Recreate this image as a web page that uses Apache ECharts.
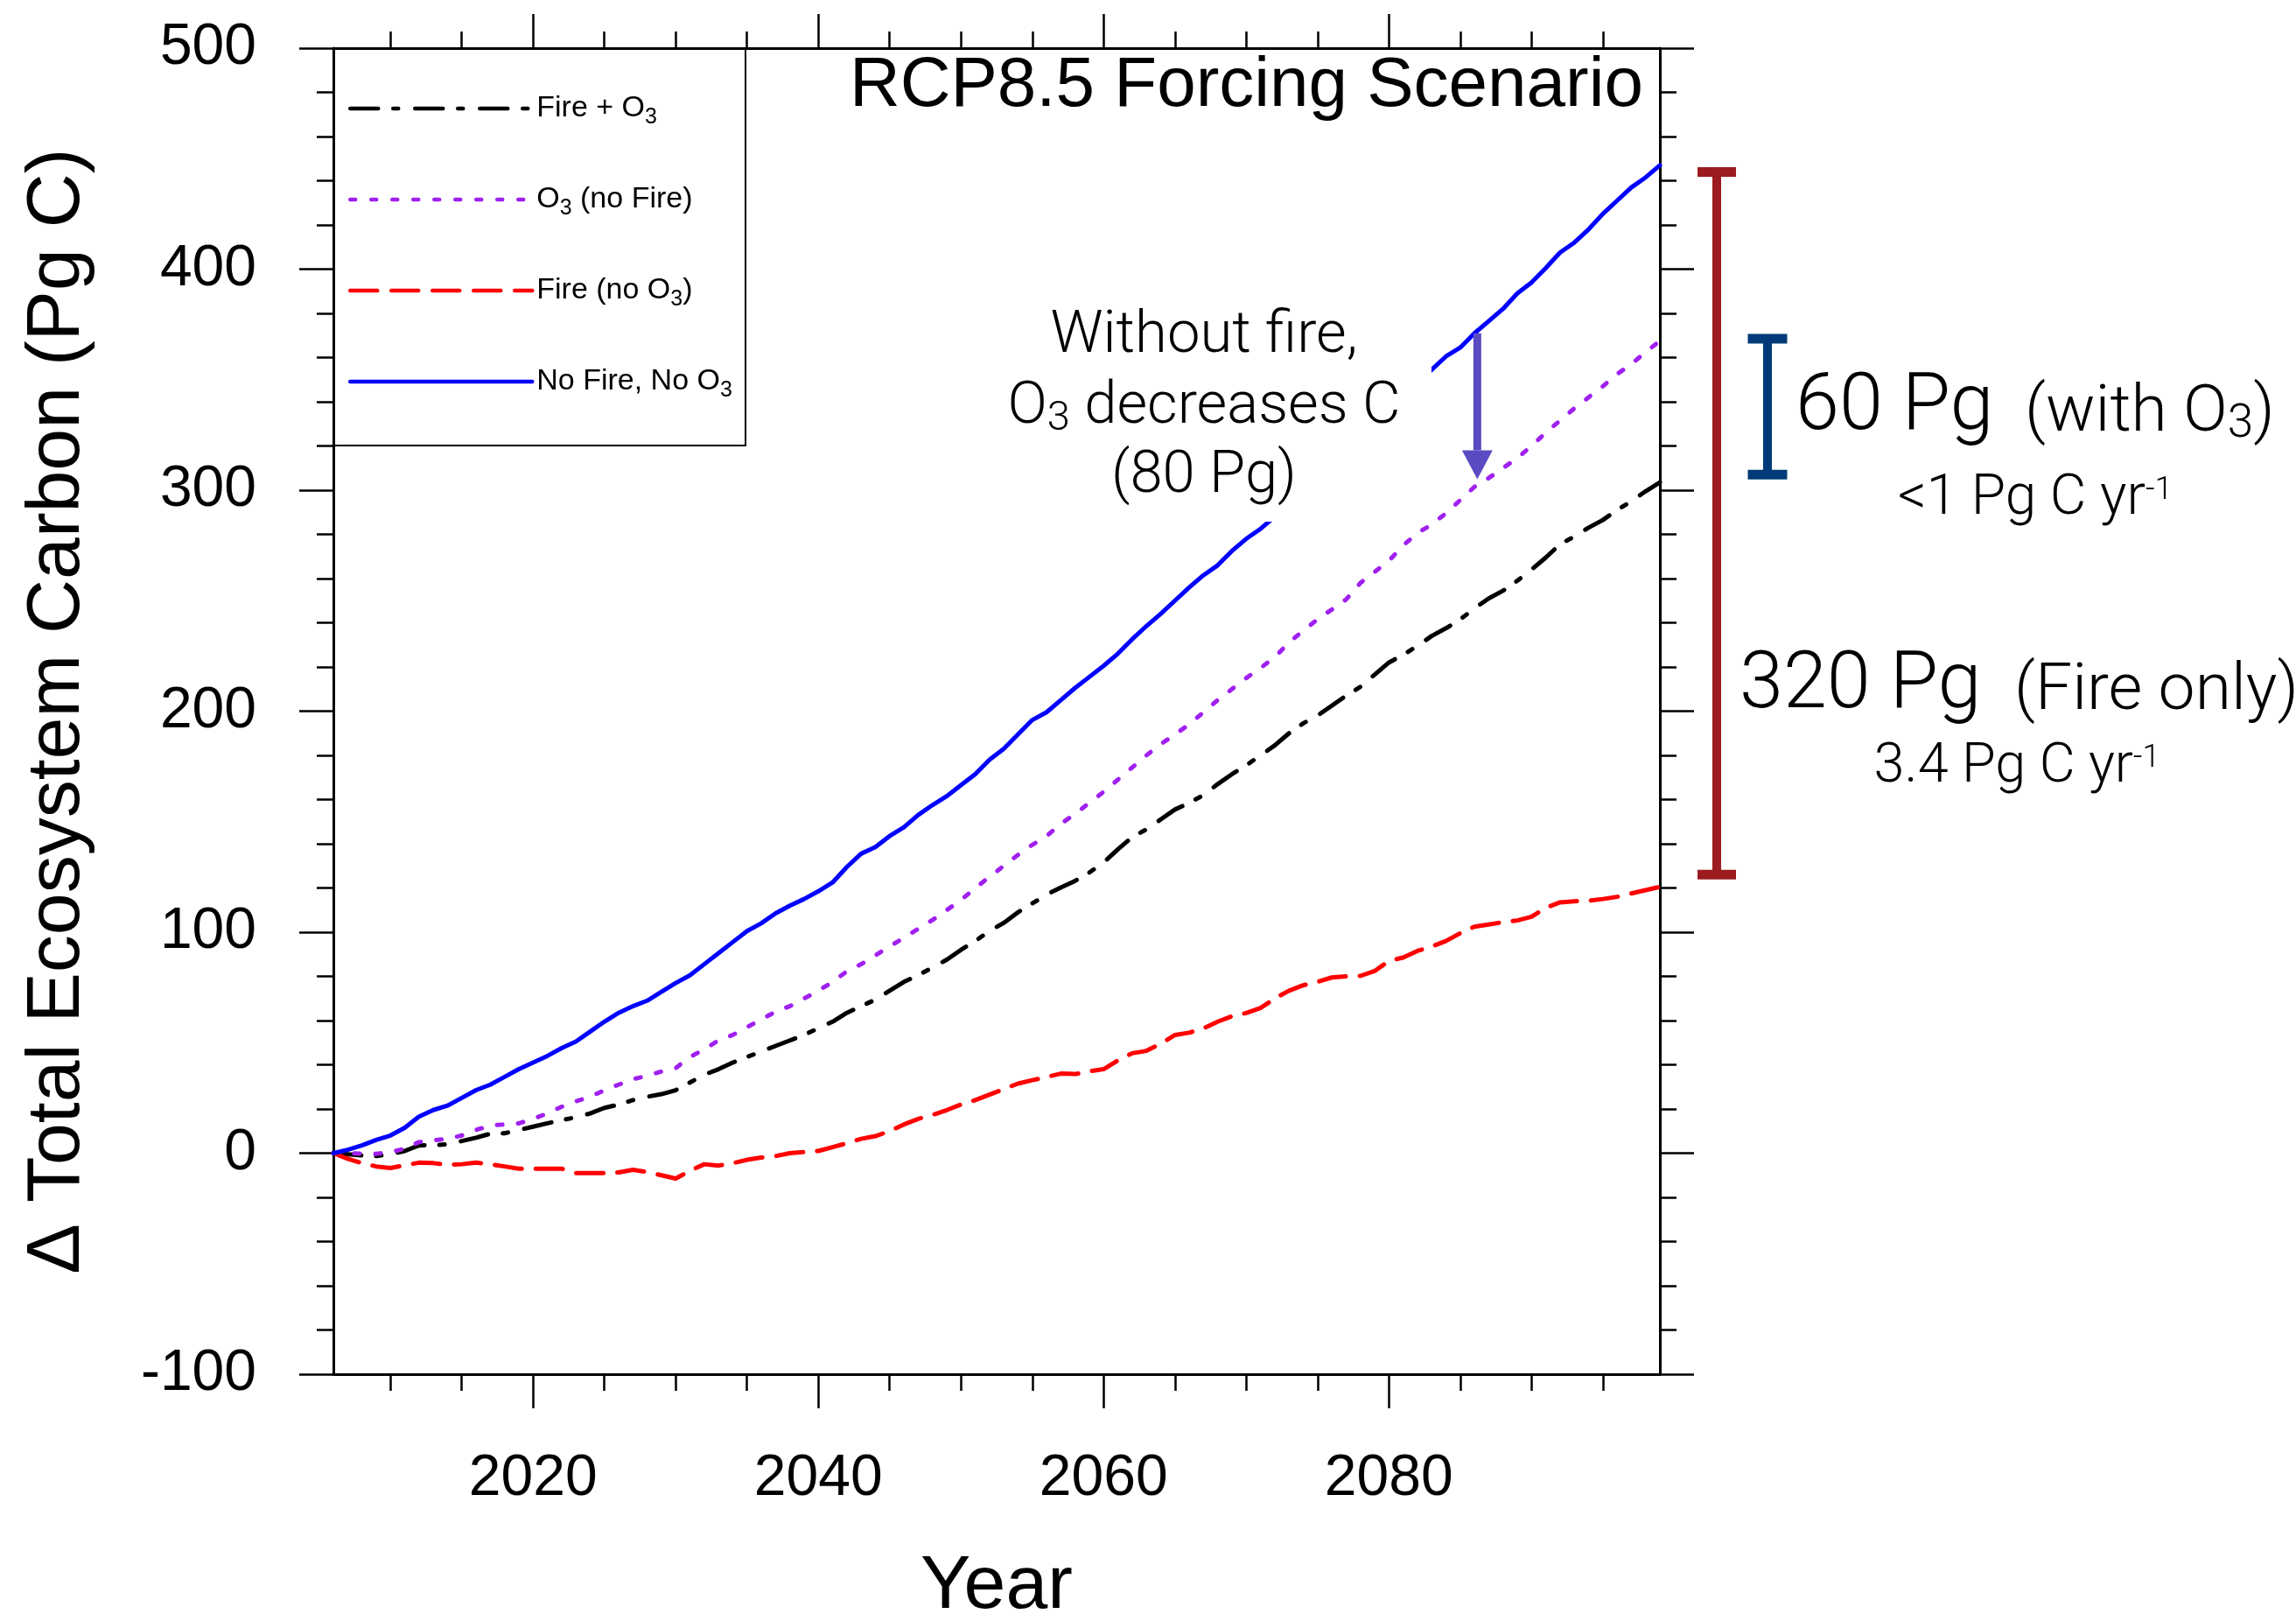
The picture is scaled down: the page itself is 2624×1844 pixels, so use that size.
<!DOCTYPE html>
<html>
<head>
<meta charset="utf-8">
<script src="https://cdn.jsdelivr.net/npm/echarts@6/dist/echarts.min.js"></script>
<style>html,body{margin:0;padding:0;background:#fff}#c{width:2624px;height:1844px}</style>
</head>
<body>
<div id="c"></div>
<script>
// ---------------- data ----------------
const years = Array.from({length: 94}, (_, i) => 2006 + i); // 2006 .. 2099

const fireO3 = [
  0, -0.5, -1, -1.3, -0.5, 1, 3.5, 3.6, 4, 5.5,
  7, 8.8, 9, 10.5, 12, 13.5, 15, 16.2, 18, 20.5,
  22, 24, 25.5, 26.7, 28.5, 32, 35.5, 38, 41, 43.5,
  46, 48.5, 51, 53.5, 56.5, 59.5, 63.5, 66.5, 69.5, 73.5,
  77.5, 80.5, 84, 87.5, 92, 96, 100.5, 104.2, 109, 113,
  117, 120.2, 123.2, 127, 131.5, 137.5, 143, 146.5, 151, 155.5,
  158.5, 162, 167, 171.5, 175.5, 180, 184.5, 190, 194.5, 198,
  202.5, 207, 211, 216.5, 222, 225.5, 229.5, 234, 237.5, 241.5,
  246.5, 251, 254.5, 259, 264, 269.5, 275.5, 279, 283, 286.5,
  291, 295, 299.5, 303.5
];
const o3NoFire = [
  0, 0, -0.2, -0.3, 0.5, 2, 5, 5.8, 6.5, 8,
  10.5, 12.5, 13, 13.5, 15.5, 18, 21, 23.5, 25.5, 28.5,
  31, 33.5, 35, 37, 38.5, 43.5, 47, 51, 53.5, 57,
  60.5, 64, 66.5, 70, 73.5, 77.5, 82.3, 85.5, 89.5, 93.5,
  97.5, 101.5, 105.5, 110, 114.5, 120, 125, 130, 135, 139.5,
  143.5, 149, 153.5, 158.5, 163.5, 169, 174.5, 180, 185, 189.5,
  194, 199.5, 205, 210, 215, 219.5, 224.5, 231, 236.5, 241.5,
  246, 250.5, 258, 263, 268, 275, 280.5, 284.5, 289.5, 295.5,
  301.5, 305.5, 310, 314.5, 320, 326, 331.5, 337, 342, 347,
  352.5, 357, 362.5, 367.5
];
const fireNoO3 = [
  0, -2.5, -4.5, -6, -6.7, -5.5, -4.3, -4.5, -5.2, -5,
  -4.3, -5, -6, -7, -7, -7, -7, -9, -9, -9,
  -8.7, -7.5, -8.5, -10, -11.5, -8, -5, -5.6, -4.5, -3,
  -2, -1.3, 0, 0.5, 1, 2.7, 4.5, 6.5, 7.7, 10,
  13, 15.5, 17.3, 19.5, 22, 24, 26.5, 29, 31.5, 33,
  34.5, 36, 35.8, 37, 38, 42, 45.2, 46.3, 49.5, 53.5,
  54.5, 56.5, 59.5, 62, 63.4, 65.7, 70, 73.5, 76, 77.5,
  79.5, 80, 80.2, 82.4, 87, 88.5, 91.5, 93.5, 96, 99.5,
  102.5, 103.5, 104.5, 105.3, 107, 111, 113.5, 114, 114.2, 115,
  116, 117.5, 119, 120.5
];
const noFireNoO3 = [
  0, 1.5, 3.5, 6, 8, 11.5, 16.5, 19.5, 21.5, 25,
  28.5, 31, 34.5, 38, 41, 44, 47.5, 50.5, 55, 59.5,
  63.5, 66.5, 69, 73, 77, 80.5, 85.5, 90.5, 95.5, 100.5,
  104, 108.5, 112, 115, 118.5, 122.5, 129.5, 135.5, 138.5, 143.5,
  147.5, 153, 157.5, 161.5, 166.5, 171.5, 178, 183, 189.5, 196,
  199.5, 205, 210.5, 215.5, 220.5, 226, 232.5, 238.5, 244, 250,
  256, 261.5, 266, 272.5, 278, 282.5, 288, 294, 300, 306,
  312, 318, 324, 330, 336, 342, 348.5, 354.5, 360.5, 364.5,
  371, 376.5, 382, 389, 394, 400.5, 407.5, 412, 418, 425,
  431, 437, 441.5, 447
];

const seriesNames = ['Fire + O3', 'O3 (no Fire)', 'Fire (no O3)', 'No Fire, No O3'];
const majorYears = [2020, 2040, 2060, 2080];
const minorYears = [2010, 2015, 2025, 2030, 2035, 2045, 2050, 2055, 2065, 2070, 2075, 2085, 2090, 2095];

// annotation values
const o3Arrow = {year: 2086.2, from: 371, to: 305};
const withO3Range = [307, 368.5];
const fireOnlyRange = [126, 444];

// ---------------- chart ----------------
const REG = 'Liberation Sans';
const LIGHT = 'Roboto';
const chart = echarts.init(document.getElementById('c'), null, {renderer: 'canvas'});

const tickStyle = {color: '#000', width: 2.5};
function xAxisDef(pos, values, len, showLine, showLabel) {
  return {
    type: 'value', position: pos, min: 2006, max: 2099,
    axisLine: {show: showLine, onZero: false, lineStyle: {color: '#000', width: 3}},
    axisTick: {show: true, customValues: values, length: len, inside: false, lineStyle: tickStyle},
    axisLabel: {show: showLabel, customValues: values, margin: 87, fontSize: 66, fontFamily: REG, color: '#000',
                formatter: v => String(v)},
    splitLine: {show: false}, minorTick: {show: false}
  };
}
function yAxisDef(pos, showLabel) {
  return {
    type: 'value', position: pos, min: -100, max: 500, interval: 100,
    axisLine: {show: true, onZero: false, lineStyle: {color: '#000', width: 3}},
    axisTick: {show: true, length: 39, lineStyle: tickStyle},
    minorTick: {show: true, splitNumber: 5, length: 19, lineStyle: tickStyle},
    axisLabel: {show: showLabel, margin: 88, fontSize: 66, fontFamily: REG, color: '#000'},
    splitLine: {show: false}
  };
}

const xb = xAxisDef('bottom', majorYears, 39, true, true);
xb.name = 'Year'; xb.nameLocation = 'middle'; xb.nameGap = 200;
xb.nameTextStyle = {fontSize: 86, fontFamily: REG, color: '#000'};
const yl = yAxisDef('left', true);
yl.name = 'Δ Total Ecosystem Carbon (Pg C)'; yl.nameLocation = 'middle'; yl.nameGap = 272;
yl.nameTextStyle = {fontSize: 86, fontFamily: REG, color: '#000'};

const seriesData = [fireO3, o3NoFire, fireNoO3, noFireNoO3];
const colors = ['#000000', '#a020f0', '#ff0000', '#0000ff'];
const dashes = [[32, 17, 6, 19], [6, 18], [31, 16], 'solid'];

const option = {
  animation: false,
  backgroundColor: '#fff',
  grid: {left: 381, right: 727, top: 55, bottom: 274, containLabel: false, outerBoundsMode: 'none'},
  xAxis: [xb, xAxisDef('bottom', minorYears, 19, false, false),
          xAxisDef('top', majorYears, 39, true, false), xAxisDef('top', minorYears, 19, false, false)],
  yAxis: [yl, yAxisDef('right', false)],
  legend: {
    orient: 'vertical', left: 398, top: 101, padding: 0,
    itemWidth: 208, itemHeight: 14, itemGap: 58, selectedMode: false,
    data: seriesNames,
    itemStyle: {opacity: 0},
    lineStyle: {width: 4.5},
    formatter: n => n.replace('O3', 'O{s|3}'),
    textStyle: {fontSize: 34, fontFamily: REG, color: '#000', lineHeight: 46,
                rich: {s: {fontSize: 25, fontFamily: REG, lineHeight: 20, padding: [20, 0, 0, 0]}}}
  },
  series: seriesNames.map((name, k) => ({
    name, type: 'line', xAxisIndex: 0, yAxisIndex: 0,
    symbol: 'none', showSymbol: false,
    data: years.map((y, i) => [y, seriesData[k][i]]),
    lineStyle: {color: colors[k], width: 5, type: dashes[k], cap: 'round', join: 'round'},
    itemStyle: {color: colors[k]}
  }))
};
chart.setOption(option);

// ---------------- annotations ----------------
const P = (x, y) => chart.convertToPixel({xAxisIndex: 0, yAxisIndex: 0}, [x, y]);
const Y = v => chart.convertToPixel({yAxisIndex: 0}, v);

function bracket(cx, range, color, capW, capH, shaftW) {
  const yTop = Y(range[1]), yBot = Y(range[0]);
  return [
    {type: 'rect', z: 20, shape: {x: cx - shaftW / 2, y: yTop, width: shaftW, height: yBot - yTop}, style: {fill: color}},
    {type: 'rect', z: 20, shape: {x: cx - capW / 2, y: yTop - capH / 2, width: capW, height: capH}, style: {fill: color}},
    {type: 'rect', z: 20, shape: {x: cx - capW / 2, y: yBot - capH / 2, width: capW, height: capH}, style: {fill: color}}
  ];
}
function txt(text, x, baseline, size, align, family, weight, rich) {
  return {
    type: 'text', z: 30, x: x, y: baseline - 0.35 * size,
    style: {text, fontSize: size, fontFamily: family, fontWeight: weight, fill: '#000',
            align, textAlign: align, verticalAlign: 'middle', textVerticalAlign: 'middle', rich: rich || {}}
  };
}

const [ax, ay0] = P(o3Arrow.year, o3Arrow.from);
const ay1 = P(o3Arrow.year, o3Arrow.to)[1];
const arrowColor = '#5a4bc3';
const headH = 33, headW = 35, shaftW = 9;

const lightSub = (sz, pad) => ({s: {fontSize: sz, fontFamily: LIGHT, fontWeight: 300, lineHeight: 20, padding: [pad, 0, 0, 0]}});
const lightSup = (sz, pad) => ({p: {fontSize: sz, fontFamily: LIGHT, fontWeight: 300, lineHeight: 20, padding: [0, 0, pad, 0]}});

const graphics = [
  // legend box
  {type: 'rect', z: 5, shape: {x: 381, y: 55, width: 471, height: 454}, style: {fill: 'none', stroke: '#000', lineWidth: 2}},
  // title
  txt('RCP8.5 Forcing Scenario', 1878, 127, 80, 'right', REG, 'normal'),
  // white box behind the annotation text
  {type: 'rect', z: 25, shape: {x: 1125, y: 340, width: 511, height: 256}, style: {fill: '#fff'}},
  txt('Without fire,', 1376, 409, 67, 'center', LIGHT, 300),
  txt('O{s|3} decreases C', 1376, 490, 67, 'center', LIGHT, 300, lightSub(47, 25)),
  txt('(80 Pg)', 1376, 569, 67, 'center', LIGHT, 300),
  // arrow
  {type: 'rect', z: 20, shape: {x: ax - shaftW / 2, y: ay0, width: shaftW, height: ay1 - headH - ay0}, style: {fill: arrowColor}},
  {type: 'polygon', z: 20, shape: {points: [[ax - headW / 2, ay1 - headH], [ax + headW / 2, ay1 - headH], [ax, ay1]]}, style: {fill: arrowColor}},
  // brackets
  ...bracket(1962, fireOnlyRange, '#9b1b1f', 44, 11, 10),
  ...bracket(2020, withO3Range, '#003a78', 45, 11, 10),
  // right side text
  txt('60 Pg', 2052, 499, 90, 'left', LIGHT, 300),
  txt('(with O{s|3})', 2314, 499, 75, 'left', LIGHT, 300, lightSub(53, 26)),
  txt('<1 Pg C yr{p|-1}', 2326, 593, 64, 'center', LIGHT, 300, lightSup(37, 20)),
  txt('320 Pg', 1988, 817, 90, 'left', LIGHT, 300),
  txt('(Fire only)', 2302, 817, 75, 'left', LIGHT, 300),
  txt('3.4 Pg C yr{p|-1}', 2305, 899, 63, 'center', LIGHT, 300, lightSup(36, 20))
];
chart.setOption({graphic: graphics});
</script>
</body>
</html>
